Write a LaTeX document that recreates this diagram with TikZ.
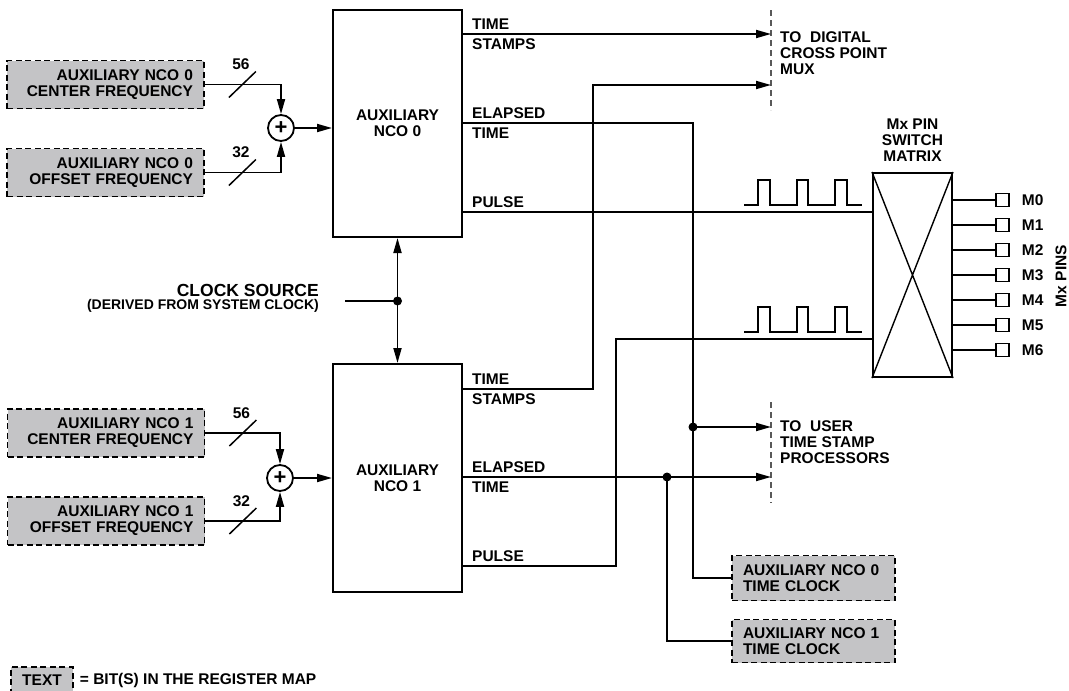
\documentclass[tikz,border=0pt]{standalone}
\usepackage{fontspec}
\setmainfont{Liberation Sans}
\usetikzlibrary{positioning,arrows.meta,calc}
\definecolor{regfill}{RGB}{196,196,198}
\newcommand{\lblfont}{\fontsize{15.5}{16}\selectfont\bfseries}

\begin{document}
\begin{tikzpicture}[x=1pt,y=-1pt,>={Triangle[length=15pt,width=8pt]},
    wire/.style={line width=1.8pt},
    regbox/.style={draw,dash pattern=on 6pt off 3.5pt,fill=regfill,line width=1.8pt,font=\lblfont,inner xsep=11pt,inner ysep=0pt},
    lbox/.style={regbox,text width=175pt,align=right,minimum height=48pt},
    tbox/.style={regbox,text width=141pt,align=left},
    ncobox/.style={draw,line width=2pt,minimum width=129pt,align=center,font=\lblfont},
    adder/.style={draw,circle,line width=1.8pt,minimum size=26pt,inner sep=0pt,font=\fontsize{22}{22}\selectfont\bfseries},
    sig/.style={font=\lblfont,inner xsep=0pt,inner ysep=4.5pt},
    txt/.style={font=\lblfont,inner sep=2pt,align=left},
    dot/.style={circle,fill,inner sep=0pt,minimum size=9pt},
    edge/.style={line width=1.8pt,black!65,dash pattern=on 6pt off 4pt},
    pin/.style={draw,line width=1.5pt,minimum size=13pt,inner sep=0pt}]
  \useasboundingbox (0,0) rectangle (1069,691);

  % register inputs and adders
  \node[lbox] (cf0) at (105.5,84.5) {AUXILIARY NCO 0\\CENTER FREQUENCY};
  \node[lbox] (of0) at (105.5,172.5) {AUXILIARY NCO 0\\OFFSET FREQUENCY};
  \node[lbox] (cf1) at (106,433) {AUXILIARY NCO 1\\CENTER FREQUENCY};
  \node[lbox] (of1) at (106,521) {AUXILIARY NCO 1\\OFFSET FREQUENCY};
  \node[adder] (add0) at (281,128) {+};
  \node[adder] (add1) at (280,478) {+};

  % the two NCOs
  \node[ncobox,minimum height=227pt] (nco0) at (397.5,123.5) {AUXILIARY\\NCO 0};
  \node[ncobox,minimum height=228pt] (nco1) at (397.5,478) {AUXILIARY\\NCO 1};

  \draw[wire,->] (cf0.east) -| (add0.north);
  \draw[wire,->] (of0.east) -| (add0.south);
  \draw[wire,->] (add0.east) -- (add0.east -| nco0.west);
  \draw[wire,->] (cf1.east) -| (add1.north);
  \draw[wire,->] (of1.east) -| (add1.south);
  \draw[wire,->] (add1.east) -- (add1.east -| nco1.west);
  \foreach \b/\w [count=\i] in {cf0/56,of0/32,cf1/56,of1/32} {
    \draw[line width=1.5pt] ($(\b.east)+(24,13)$) -- ++(27,-26);
    \node[font=\lblfont,inner sep=0pt] (bw\i) at ($(\b.east)+(36,-20)$) {\w};
  }

  % clock source
  \node[dot] (clk) at (397.5,301) {};
  \coordinate (clkin) at (345,301);
  \draw[wire,<->] (nco0.south) -- (nco1.north);
  \draw[wire] (clkin) -- (clk.center);
  \node[align=right,anchor=east,inner sep=0pt] (clksrc) at (319,298)
    {\fontsize{17.5}{18}\selectfont\bfseries CLOCK SOURCE\\[1pt]
     \fontsize{14}{17}\selectfont\bfseries (DERIVED FROM SYSTEM CLOCK)};

  % NCO outputs
  \coordinate (ts0) at (462,34);
  \coordinate (et0) at (462,123);
  \coordinate (pu0) at (462,212);
  \coordinate (ts1) at (462,389);
  \coordinate (et1) at (462,477);
  \coordinate (pu1) at (462,566);
  \node[sig,anchor=south west] (ts0a) at ([xshift=10pt]ts0) {TIME};
  \node[sig,anchor=north west] (ts0b) at ([xshift=10pt]ts0) {STAMPS};
  \node[sig,anchor=south west] (et0a) at ([xshift=10pt]et0) {ELAPSED};
  \node[sig,anchor=north west] (et0b) at ([xshift=10pt]et0) {TIME};
  \node[sig,anchor=south west] (pu0a) at ([xshift=10pt]pu0) {PULSE};
  \node[sig,anchor=south west] (ts1a) at ([xshift=10pt]ts1) {TIME};
  \node[sig,anchor=north west] (ts1b) at ([xshift=10pt]ts1) {STAMPS};
  \node[sig,anchor=south west] (et1a) at ([xshift=10pt]et1) {ELAPSED};
  \node[sig,anchor=north west] (et1b) at ([xshift=10pt]et1) {TIME};
  \node[sig,anchor=south west] (pu1a) at ([xshift=10pt]pu1) {PULSE};

  % destinations
  \coordinate (muxtop) at (771,10);
  \coordinate (muxbot) at (771,110);
  \coordinate (usrtop) at (771,402);
  \coordinate (usrbot) at (771,503);
  \draw[edge] (muxtop) -- (muxbot);
  \draw[edge] (usrtop) -- (usrbot);
  \node[txt,anchor=north west] (muxlbl) at (778,29) {TO\ \ DIGITAL\\CROSS POINT\\MUX};
  \node[txt,anchor=north west] (usrlbl) at (778,418) {TO\ \ USER\\TIME STAMP\\PROCESSORS};
  \node[tbox,minimum height=45pt] (tc0) at (813.5,578) {AUXILIARY NCO 0\\TIME CLOCK};
  \node[tbox,minimum height=43pt] (tc1) at (813.5,641) {AUXILIARY NCO 1\\TIME CLOCK};

  % switch matrix and pins
  \node[draw,line width=2pt,minimum width=79pt,minimum height=204pt] (sw) at (912.5,275) {};
  \draw[line width=1.4pt] (sw.north west) -- (sw.south east) (sw.north east) -- (sw.south west);
  \node[txt,align=center,above=8pt of sw] (swlbl) {Mx PIN\\SWITCH\\MATRIX};
  \foreach \i in {0,...,6} {
    \node[pin] (p\i) at (1002.5,200+25*\i) {};
    \draw[wire] (p\i.west) -- (p\i.west -| sw.east);
    \node[sig,anchor=west] (m\i) at ([xshift=12pt]p\i.east) {M\i};
  }
  \node[font=\lblfont,rotate=90] (mxpins) at (1061,276) {Mx PINS};

  % routing
  \coordinate (ts1up) at (593,85);
  \coordinate (et0dn) at (693,123);
  \coordinate (pu1up) at (616,339);
  \node[dot] (tap0) at (693,427) {};
  \node[dot] (tap1) at (667,477) {};
  \draw[wire,->] (ts0) -- (ts0 -| muxtop);
  \draw[wire,->] (ts1) -| (ts1up) -- (ts1up -| muxtop);
  \draw[wire] (et0) -- (et0dn) |- (tc0.west);
  \draw[wire,->] (tap0.center) -- (tap0 -| usrtop);
  \draw[wire] (pu0) -- (pu0 -| sw.west);
  \draw[wire] (pu1) -| (pu1up) -- (pu1up -| sw.west);
  \draw[wire,->] (et1) -- (et1 -| usrtop);
  \draw[wire] (tap1.center) |- (tc1.west);
  \foreach \y in {205,332}
    \draw[wire] (744,\y) -- ++(14,0) -- ++(0,-25) -- ++(12,0) -- ++(0,25) -- ++(27,0)
      -- ++(0,-25) -- ++(11,0) -- ++(0,25) -- ++(27,0) -- ++(0,-25) -- ++(12,0)
      -- ++(0,25) -- ++(15,0);

  % legend
  \node[regbox,minimum width=60pt,minimum height=26pt] (legbox) at (42,680) {TEXT};
  \node[txt,right=4pt of legbox] (legtxt) {= BIT(S) IN THE REGISTER MAP};
\end{tikzpicture}
\end{document}
